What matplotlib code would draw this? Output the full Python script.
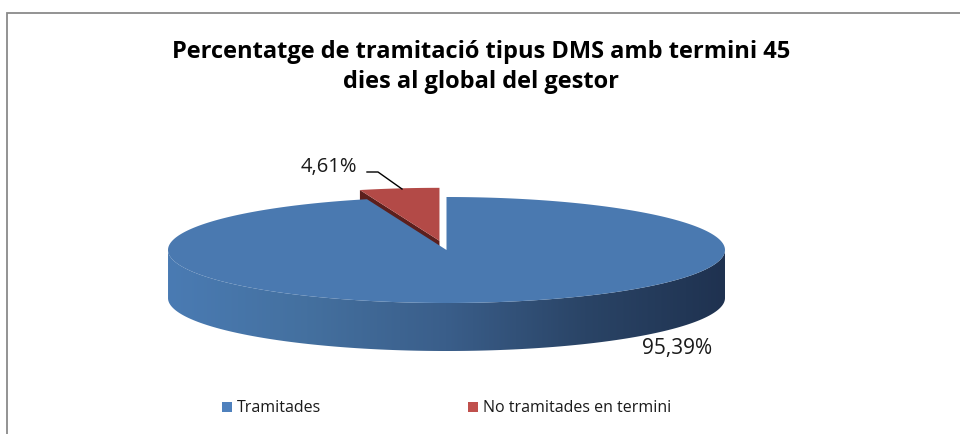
import numpy as np
import matplotlib
matplotlib.use("Agg")
import matplotlib.pyplot as plt
from matplotlib.patches import Polygon, Rectangle
from matplotlib.colors import LinearSegmentedColormap

plt.rcParams['font.family'] = ['Open Sans', 'DejaVu Sans']

# data
labels = ['Tramitades', 'No tramitades en termini']
values = [95.39, 4.61]
pct_text = ['95,39%', '4,61%']
top_colors = ['#4a79b0', '#b34a47']
face_colors = ['#2c4a70', '#5c1f1d']
legend_colors = ['#4f81bd', '#c0504d']
explode = [0.0, 0.175]
title = 'Percentatge de tramitació tipus DMS amb termini 45\ndies al global del gestor'

# geometry of the 3d pie (pixels)
cx, cy, a, b, h = 446.5, 251.0, 278.5, 53.0, 48.0

fig = plt.figure(figsize=(9.6, 4.35), dpi=100)
ax = fig.add_axes([0, 0, 1, 1])
ax.set_xlim(0, 960)
ax.set_ylim(435, 0)
ax.axis('off')

# chart frame (only left and top visible)
ax.plot([6.5, 6.5, 960], [435, 13.5, 13.5], color='#8a8a8a', lw=1.3, solid_joinstyle='miter')

side_cmap = LinearSegmentedColormap.from_list(
    'side', ['#4a7bb3', '#44709f', '#3a5e8a', '#2a4466', '#1f3250'])


def pt(t, dx, dy, z=0.0):
    return cx + dx + a * np.cos(t), cy + dy - b * np.sin(t) + z


fracs = np.array(values) / sum(values)
bounds = 90 - 360 * np.concatenate([[0], np.cumsum(fracs)])

# back slices first
order = sorted(range(len(values)), key=lambda i: -np.sin(np.radians((bounds[i] + bounds[i + 1]) / 2)))
for i in order:
    t0, t1 = np.radians(bounds[i]), np.radians(bounds[i + 1])
    mid = (t0 + t1) / 2
    dx = explode[i] * a * np.cos(mid)
    dy = -explode[i] * b * np.sin(mid)
    apex = (cx + dx, cy + dy)

    # radial cut faces
    for t, vis in ((t0, np.cos(t0) < -1e-6), (t1, np.cos(t1) > 1e-6)):
        if vis:
            p = pt(t, dx, dy)
            quad = [apex, p, (p[0], p[1] + h), (apex[0], apex[1] + h)]
            ax.add_patch(Polygon(quad, closed=True, fc=face_colors[i], ec='none', zorder=2))

    # outer side on the front half
    ts = np.linspace(t1, t0, 400)
    front = ts[np.sin(ts) < 0]
    if len(front) > 1:
        xs, ys = pt(front, dx, dy)
        verts = list(zip(xs, ys)) + list(zip(xs[::-1], ys[::-1] + h))
        side = Polygon(verts, closed=True, fc='none', ec='none', zorder=3)
        ax.add_patch(side)
        grad = np.linspace(0, 1, 256).reshape(1, -1)
        im = ax.imshow(grad, cmap=side_cmap, aspect='auto', zorder=3,
                       extent=[xs.min(), xs.max(), ys.max() + h, ys.min()])
        im.set_clip_path(side)

    # top
    xs, ys = pt(ts, dx, dy)
    verts = [apex] + list(zip(xs, ys))
    ax.add_patch(Polygon(verts, closed=True, fc=top_colors[i], ec='none', zorder=4))

ax.set_xlim(0, 960)
ax.set_ylim(435, 0)

# data labels
ax.text(677, 349, pct_text[0], fontsize=15, ha='center', va='center', color='#1a1a1a', zorder=6)
ax.text(329, 167, pct_text[1], fontsize=14.5, ha='center', va='center', color='#1a1a1a', zorder=6)
ax.plot([367, 378, 402], [173, 173, 190], color='black', lw=1.0, zorder=6)

# title
ax.text(481, 67, title, fontsize=17, fontweight='bold', ha='center', va='center',
        linespacing=1.35, color='#000000', zorder=6)

# legend
leg_x = [222, 468]
for i, lab in enumerate(labels):
    ax.add_patch(Rectangle((leg_x[i], 403), 9.5, 9.5, fc=legend_colors[i], ec='none', zorder=6))
    ax.text(leg_x[i] + 15, 408, lab, fontsize=11.5, ha='left', va='center', color='#1a1a1a', zorder=6)

fig.savefig('out.png', dpi=100)
